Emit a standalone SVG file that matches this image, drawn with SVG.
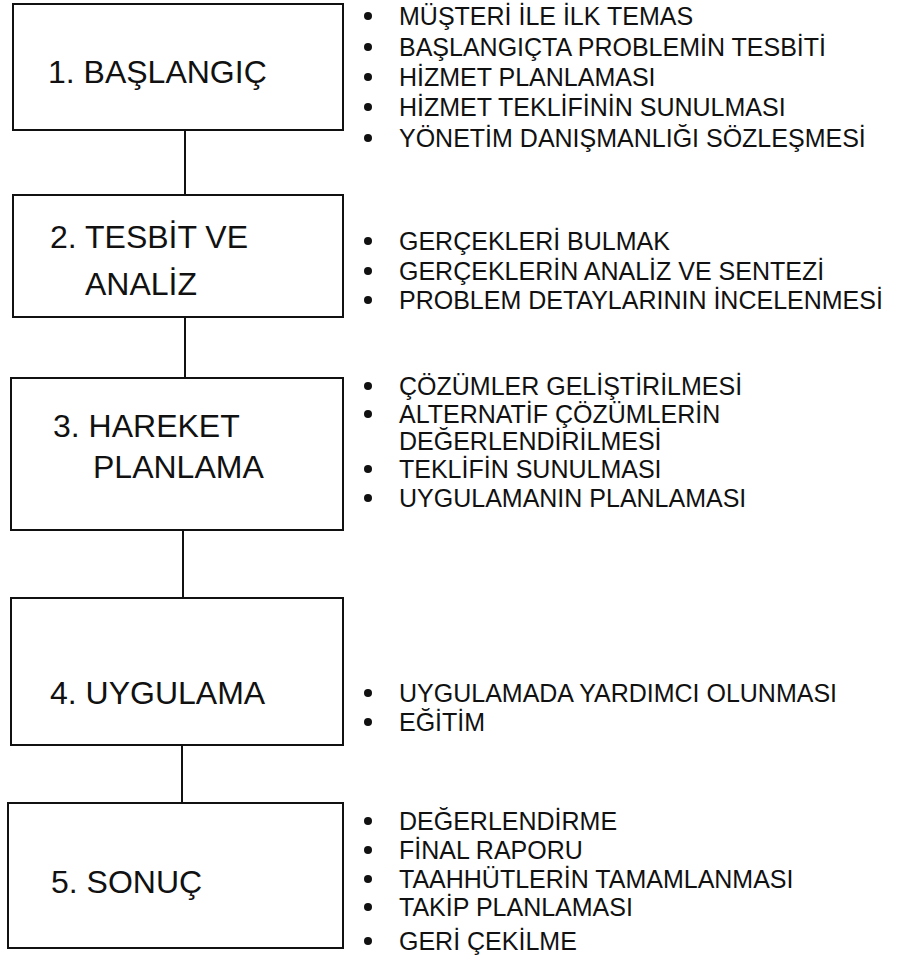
<svg xmlns="http://www.w3.org/2000/svg" width="917" height="968" viewBox="0 0 917 968">
<style>
.box{fill:#fff;stroke:#111;stroke-width:2}
.lbl{font-family:"Liberation Sans",Arial,sans-serif;font-size:32px;fill:#111}
.itm{font-family:"Liberation Sans",Arial,sans-serif;font-size:25px;fill:#111}
.dot{fill:#111}
.con{stroke:#111;stroke-width:2;fill:none}
</style>
<rect width="917" height="968" fill="#fff"/>
<g id="connectors">
<line class="con" x1="185" y1="130" x2="185" y2="195"/>
<line class="con" x1="185" y1="317" x2="185" y2="378"/>
<line class="con" x1="183" y1="530" x2="183" y2="598"/>
<line class="con" x1="182" y1="745" x2="182" y2="803"/>
</g>
<g id="n1">
<rect class="box" x="13" y="4" width="330" height="126"/>
<text class="lbl" x="48" y="83">1. BAŞLANGIÇ</text>
</g>
<g id="n2">
<rect class="box" x="13" y="195" width="330" height="122"/>
<text class="lbl" x="50" y="248">2. TESBİT VE</text>
<text class="lbl" x="85" y="295">ANALİZ</text>
</g>
<g id="n3">
<rect class="box" x="11" y="378" width="332" height="152"/>
<text class="lbl" x="53" y="437">3. HAREKET</text>
<text class="lbl" x="93" y="478">PLANLAMA</text>
</g>
<g id="n4">
<rect class="box" x="11" y="598" width="332" height="147"/>
<text class="lbl" x="50" y="704">4. UYGULAMA</text>
</g>
<g id="n5">
<rect class="box" x="8" y="803" width="335" height="145"/>
<text class="lbl" x="51" y="893">5. SONUÇ</text>
</g>
<g id="list1">
<circle class="dot" cx="368" cy="16" r="4"/><text class="itm" x="399" y="25">MÜŞTERİ İLE İLK TEMAS</text>
<circle class="dot" cx="368" cy="47" r="4"/><text class="itm" x="399" y="56">BAŞLANGIÇTA PROBLEMİN TESBİTİ</text>
<circle class="dot" cx="368" cy="77" r="4"/><text class="itm" x="399" y="86">HİZMET PLANLAMASI</text>
<circle class="dot" cx="368" cy="107" r="4"/><text class="itm" x="399" y="116">HİZMET TEKLİFİNİN SUNULMASI</text>
<circle class="dot" cx="368" cy="138" r="4"/><text class="itm" x="399" y="147">YÖNETİM DANIŞMANLIĞI SÖZLEŞMESİ</text>
</g>
<g id="list2">
<circle class="dot" cx="368" cy="241" r="4"/><text class="itm" x="399" y="250">GERÇEKLERİ BULMAK</text>
<circle class="dot" cx="368" cy="271" r="4"/><text class="itm" x="399" y="280">GERÇEKLERİN ANALİZ VE SENTEZİ</text>
<circle class="dot" cx="368" cy="300" r="4"/><text class="itm" x="399" y="309">PROBLEM DETAYLARININ İNCELENMESİ</text>
</g>
<g id="list3">
<circle class="dot" cx="368" cy="386" r="4"/><text class="itm" x="399" y="395">ÇÖZÜMLER GELİŞTİRİLMESİ</text>
<circle class="dot" cx="368" cy="414" r="4"/><text class="itm" x="399" y="423">ALTERNATİF ÇÖZÜMLERİN</text>
<text class="itm" x="399" y="450">DEĞERLENDİRİLMESİ</text>
<circle class="dot" cx="368" cy="469" r="4"/><text class="itm" x="399" y="478">TEKLİFİN SUNULMASI</text>
<circle class="dot" cx="368" cy="498" r="4"/><text class="itm" x="399" y="507">UYGULAMANIN PLANLAMASI</text>
</g>
<g id="list4">
<circle class="dot" cx="368" cy="693" r="4"/><text class="itm" x="399" y="702">UYGULAMADA YARDIMCI OLUNMASI</text>
<circle class="dot" cx="368" cy="722" r="4"/><text class="itm" x="399" y="731">EĞİTİM</text>
</g>
<g id="list5">
<circle class="dot" cx="368" cy="821" r="4"/><text class="itm" x="399" y="830">DEĞERLENDİRME</text>
<circle class="dot" cx="368" cy="850" r="4"/><text class="itm" x="399" y="859">FİNAL RAPORU</text>
<circle class="dot" cx="368" cy="879" r="4"/><text class="itm" x="399" y="888">TAAHHÜTLERİN TAMAMLANMASI</text>
<circle class="dot" cx="368" cy="907" r="4"/><text class="itm" x="399" y="916">TAKİP PLANLAMASI</text>
<circle class="dot" cx="368" cy="941" r="4"/><text class="itm" x="399" y="950">GERİ ÇEKİLME</text>
</g>
</svg>
